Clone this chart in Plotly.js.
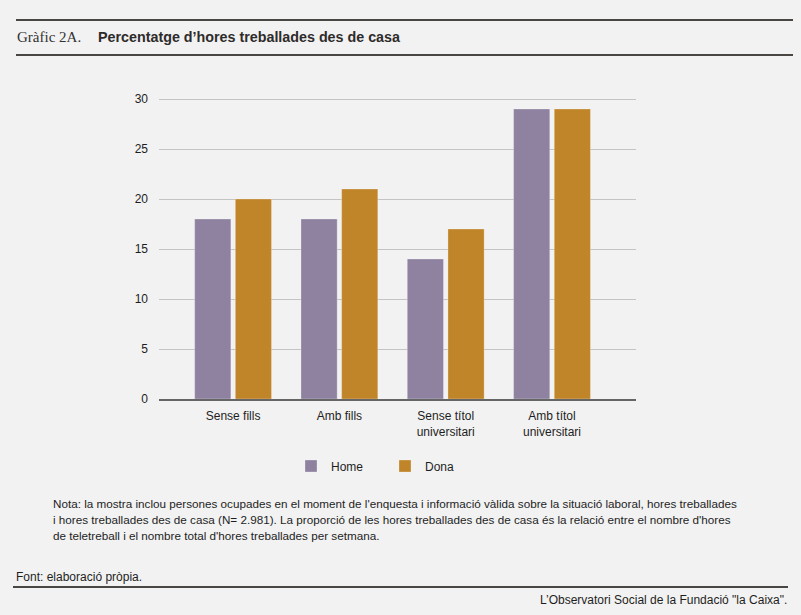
<!DOCTYPE html>
<html>
<head>
<meta charset="utf-8">
<script src="https://cdn.plot.ly/plotly-3.0.1.min.js"></script>
<style>
  html, body { margin: 0; padding: 0; background: #f2f2f2; }
  #chart { width: 801px; height: 615px; }
</style>
</head>
<body>
<div id="chart"></div>
<script>
// categories and values
var categories = ['Sense fills', 'Amb fills', 'Sense títol<br>universitari', 'Amb títol<br>universitari'];
var home = [18, 18, 14, 29];
var dona = [20, 21, 17, 29];
var yTicks = [0, 5, 10, 15, 20, 25, 30];

var noteLines = [
  "Nota: la mostra inclou persones ocupades en el moment de l'enquesta i informació vàlida sobre la situació laboral, hores treballades",
  "i hores treballades des de casa (N= 2.981). La proporció de les hores treballades des de casa és la relació entre el nombre d'hores",
  "de teletreball i el nombre total d'hores treballades per setmana."
];

// plot area in pixels, used to place page furniture
var L = 159, R = 165, T = 94, B = 216, FW = 801, FH = 615;
var PW = FW - L - R, PH = FH - T - B;
function fx(px) { return (px - L) / PW; }
function fy(py) { return 1 - (py - T) / PH; }

var sans = 'Liberation Sans, Arial, sans-serif';

var traces = [
  {
    type: 'bar', name: 'Home', x: categories, y: home,
    marker: { color: '#8f82a0', line: { color: 'rgba(255,255,255,0.35)', width: 0.8 } },
    hoverinfo: 'y'
  },
  {
    type: 'bar', name: 'Dona', x: categories, y: dona,
    marker: { color: '#c08529', line: { color: 'rgba(255,255,255,0.35)', width: 0.8 } },
    hoverinfo: 'y'
  }
];

var annotations = [
  { text: 'Gràfic 2A.', x: fx(15), y: fy(37), xanchor: 'left', yanchor: 'middle',
    font: { family: 'Liberation Serif, serif', size: 15, color: '#333' } },
  { text: '<b>Percentatge d’hores treballades des de casa</b>', x: fx(96), y: fy(37),
    xanchor: 'left', yanchor: 'middle',
    font: { family: sans, size: 14.3, color: '#2e2b2a' } },
  { text: 'Font: elaboració pròpia.', x: fx(14), y: fy(577), xanchor: 'left', yanchor: 'middle',
    font: { family: sans, size: 12, color: '#1e1e1e' } },
  { text: 'L’Observatori Social de la Fundació "la Caixa".', x: fx(789), y: fy(600),
    xanchor: 'right', yanchor: 'middle',
    font: { family: sans, size: 12, color: '#1e1e1e' } }
];
noteLines.forEach(function (line, i) {
  annotations.push({
    text: line, x: fx(51), y: fy(503 + i * 16), xanchor: 'left', yanchor: 'middle',
    font: { family: sans, size: 11.7, color: '#1e1e1e' }
  });
});
annotations.forEach(function (a) { a.xref = 'paper'; a.yref = 'paper'; a.showarrow = false; });

function rule(x0, x1, y) {
  return { type: 'line', xref: 'paper', yref: 'paper', x0: fx(x0), x1: fx(x1), y0: fy(y), y1: fy(y),
    line: { color: '#4a4644', width: 2 } };
}

var layout = {
  width: FW, height: FH,
  margin: { l: L, r: R, t: T, b: B },
  paper_bgcolor: '#f2f2f2', plot_bgcolor: '#f2f2f2',
  barmode: 'group', bargap: 0.235, bargroupgap: 0.11,
  font: { family: sans, size: 12, color: '#1e1e1e' },
  xaxis: {
    range: [-0.697, 3.79], showgrid: false, showline: true,
    linecolor: '#666', linewidth: 1.5, ticks: '', ticklabelstandoff: 5,
    tickfont: { family: sans, size: 12, color: '#1e1e1e' }, fixedrange: true
  },
  yaxis: {
    range: [0, 30.5], tickvals: yTicks, showgrid: true, gridcolor: '#c4c4c4', gridwidth: 1,
    zeroline: false, showline: false, ticks: '', ticklabelstandoff: 10,
    tickfont: { family: sans, size: 12, color: '#1e1e1e' }, fixedrange: true
  },
  showlegend: true,
  legend: {
    orientation: 'h', xref: 'container', yref: 'container',
    x: 291 / FW, y: 1 - 466 / FH, xanchor: 'left', yanchor: 'middle',
    entrywidth: 49, bgcolor: 'rgba(0,0,0,0)',
    font: { family: sans, size: 12, color: '#1e1e1e' }
  },
  shapes: [rule(16, 793, 20), rule(16, 793, 55), rule(13, 788, 587)],
  annotations: annotations
};

Plotly.newPlot('chart', traces, layout, { displayModeBar: false, staticPlot: true });
</script>
</body>
</html>
